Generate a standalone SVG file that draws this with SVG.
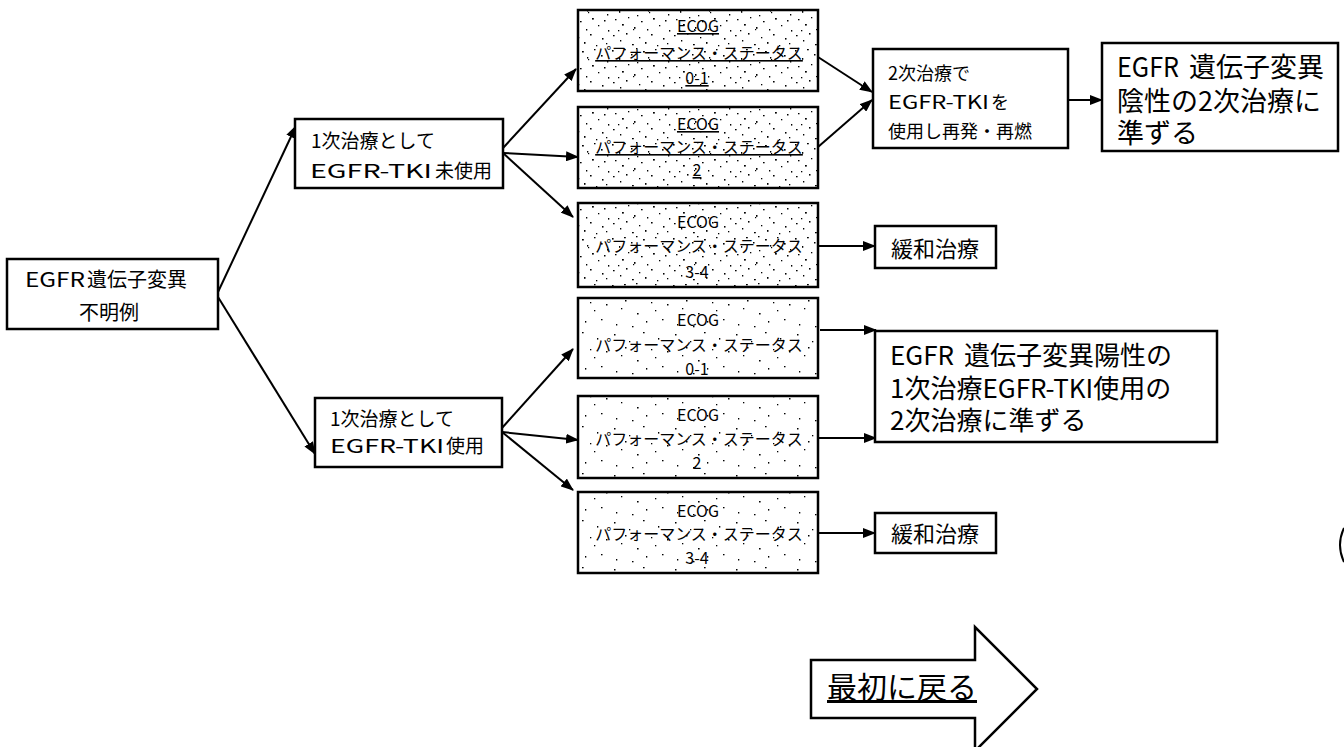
<svg xmlns="http://www.w3.org/2000/svg" width="1344" height="747" viewBox="0 0 1344 747">
<style>
.box{fill:#fff;stroke:#000;stroke-width:2.5}
.dn{fill:url(#dense)}
.sp{fill:url(#sparse)}
.t{font-family:"Noto Sans CJK JP","Noto Sans",sans-serif;fill:#000}
.ec{font-size:16px;text-anchor:middle}
.u{text-decoration:underline}
.c{stroke:#000;stroke-width:2;fill:none;marker-end:url(#ah)}
</style>
<defs>
<marker id="ah" markerUnits="userSpaceOnUse" markerWidth="13" markerHeight="10" refX="12" refY="5" orient="auto">
<path d="M0,0 L13,5 L0,10 z" fill="#000"/>
</marker>
<pattern id="dense" patternUnits="userSpaceOnUse" width="61" height="47">
<rect width="61" height="47" fill="#fff"/>
<g fill="#000">
<rect x="2" y="3" width="1.6" height="1.6"/><rect x="9" y="11" width="1.3" height="1.8"/><rect x="14" y="2" width="1.8" height="1.3"/><rect x="21" y="7" width="1.5" height="1.5"/><rect x="27" y="15" width="1.3" height="1.3"/><rect x="33" y="4" width="1.8" height="1.5"/><rect x="38" y="10" width="1.3" height="1.6"/><rect x="45" y="2" width="1.5" height="1.3"/><rect x="52" y="8" width="1.6" height="1.6"/><rect x="58" y="14" width="1.3" height="1.5"/>
<rect x="5" y="19" width="1.5" height="1.3"/><rect x="12" y="24" width="1.8" height="1.6"/><rect x="18" y="17" width="1.3" height="1.3"/><rect x="24" y="27" width="1.5" height="1.8"/><rect x="31" y="21" width="1.6" height="1.3"/><rect x="37" y="29" width="1.3" height="1.5"/><rect x="43" y="18" width="1.8" height="1.6"/><rect x="49" y="25" width="1.3" height="1.3"/><rect x="55" y="20" width="1.5" height="1.5"/><rect x="59" y="30" width="1.3" height="1.6"/>
<rect x="3" y="35" width="1.6" height="1.3"/><rect x="10" y="40" width="1.3" height="1.5"/><rect x="16" y="33" width="1.5" height="1.6"/><rect x="22" y="44" width="1.8" height="1.3"/><rect x="29" y="37" width="1.3" height="1.3"/><rect x="35" y="42" width="1.5" height="1.8"/><rect x="41" y="34" width="1.6" height="1.5"/><rect x="47" y="45" width="1.3" height="1.3"/><rect x="53" y="38" width="1.5" height="1.6"/><rect x="57" y="43" width="1.3" height="1.3"/>
<rect x="8" y="30" width="1.3" height="1.3"/><rect x="26" y="1" width="1.5" height="1.3"/><rect x="39" y="12" width="1.2" height="1.2"/><rect x="23" y="29" width="1.2" height="1.2"/>
</g>
</pattern>
<pattern id="sparse" patternUnits="userSpaceOnUse" width="61" height="47">
<rect width="61" height="47" fill="#fff"/>
<g fill="#000">
<rect x="4" y="5" width="1.5" height="1.5"/><rect x="19" y="12" width="1.3" height="1.3"/><rect x="33" y="3" width="1.6" height="1.3"/><rect x="48" y="9" width="1.3" height="1.6"/><rect x="57" y="22" width="1.5" height="1.5"/><rect x="11" y="26" width="1.3" height="1.3"/><rect x="27" y="31" width="1.6" height="1.5"/><rect x="41" y="20" width="1.3" height="1.3"/><rect x="52" y="37" width="1.5" height="1.3"/><rect x="6" y="42" width="1.3" height="1.5"/><rect x="22" y="44" width="1.5" height="1.3"/><rect x="36" y="39" width="1.3" height="1.6"/><rect x="45" y="28" width="1.3" height="1.3"/><rect x="15" y="18" width="1.5" height="1.5"/>
</g>
</pattern>
</defs>
<rect width="1344" height="747" fill="#fff"/>

<g id="connectors">
<line class="c" x1="218" y1="292" x2="296" y2="126"/>
<line class="c" x1="218" y1="297" x2="315" y2="454"/>
<line class="c" x1="503" y1="148" x2="576" y2="69"/>
<line class="c" x1="503" y1="153" x2="578" y2="157"/>
<line class="c" x1="503" y1="153" x2="573" y2="217"/>
<line class="c" x1="502" y1="428" x2="573" y2="349"/>
<line class="c" x1="502" y1="432" x2="578" y2="440"/>
<line class="c" x1="502" y1="432" x2="573" y2="490"/>
<line class="c" x1="818" y1="57" x2="872" y2="92"/>
<line class="c" x1="818" y1="147" x2="872" y2="100"/>
<line class="c" x1="1068" y1="100" x2="1102" y2="100"/>
<line class="c" x1="818" y1="246" x2="875" y2="246"/>
<line class="c" x1="820" y1="330" x2="876" y2="330"/>
<line class="c" x1="818" y1="438" x2="876" y2="438"/>
<line class="c" x1="818" y1="533" x2="875" y2="533"/>
</g>

<g id="root">
<rect class="box" x="7" y="259" width="211" height="70"/>
<text class="t" x="25" y="287" font-size="20" textLength="60" lengthAdjust="spacingAndGlyphs">EGFR</text>
<text class="t" x="87" y="287" font-size="20">遺伝子変異</text>
<text class="t" x="109" y="320" font-size="20" text-anchor="middle">不明例</text>
</g>

<g id="first-no">
<rect class="box" x="295" y="119" width="208" height="69"/>
<text class="t" x="311" y="148" font-size="19">1次治療として</text>
<text class="t" x="310" y="178" font-size="19" textLength="122" lengthAdjust="spacingAndGlyphs">EGFR-TKI</text>
<text class="t" x="435" y="178" font-size="19">未使用</text>
</g>

<g id="first-yes">
<rect class="box" x="315" y="398" width="187" height="69"/>
<text class="t" x="330" y="426" font-size="19">1次治療として</text>
<text class="t" x="330" y="453" font-size="19" textLength="114" lengthAdjust="spacingAndGlyphs">EGFR-TKI</text>
<text class="t" x="446" y="453" font-size="19">使用</text>
</g>

<g id="ecog1">
<rect class="box dn" x="578" y="10" width="240" height="81"/>
<text class="t ec u" x="698" y="32">ECOG</text>
<text class="t ec u" x="699" y="59">パフォーマンス・ステータス</text>
<text class="t ec u" x="697" y="84">0-1</text>
</g>
<g id="ecog2">
<rect class="box dn" x="578" y="107" width="240" height="81"/>
<text class="t ec u" x="698" y="130">ECOG</text>
<text class="t ec u" x="699" y="153">パフォーマンス・ステータス</text>
<text class="t ec u" x="697" y="176">2</text>
</g>
<g id="ecog3">
<rect class="box dn" x="578" y="203" width="240" height="84"/>
<text class="t ec" x="698" y="228">ECOG</text>
<text class="t ec" x="699" y="252">パフォーマンス・ステータス</text>
<text class="t ec" x="697" y="278">3-4</text>
</g>
<g id="ecog4">
<rect class="box sp" x="578" y="298" width="240" height="80"/>
<text class="t ec" x="698" y="326">ECOG</text>
<text class="t ec" x="699" y="351">パフォーマンス・ステータス</text>
<text class="t ec" x="697" y="375">0-1</text>
</g>
<g id="ecog5">
<rect class="box sp" x="578" y="396" width="240" height="82"/>
<text class="t ec" x="698" y="421">ECOG</text>
<text class="t ec" x="699" y="445">パフォーマンス・ステータス</text>
<text class="t ec" x="697" y="469">2</text>
</g>
<g id="ecog6">
<rect class="box sp" x="578" y="492" width="240" height="81"/>
<text class="t ec" x="698" y="517">ECOG</text>
<text class="t ec" x="699" y="540">パフォーマンス・ステータス</text>
<text class="t ec" x="697" y="564">3-4</text>
</g>

<g id="second">
<rect class="box" x="873" y="49" width="195" height="99"/>
<text class="t" x="888" y="80" font-size="18">2次治療で</text>
<text class="t" x="888" y="109" font-size="18" textLength="101" lengthAdjust="spacingAndGlyphs">EGFR-TKI</text>
<text class="t" x="991" y="109" font-size="18">を</text>
<text class="t" x="888" y="138" font-size="18">使用し再発・再燃</text>
</g>

<g id="neg">
<rect class="box" x="1102" y="43" width="236" height="108"/>
<text class="t" x="1117" y="77" font-size="27" textLength="62" lengthAdjust="spacingAndGlyphs">EGFR</text>
<text class="t" x="1189" y="77" font-size="27">遺伝子変異</text>
<text class="t" x="1117" y="111" font-size="27">陰性の2次治療に</text>
<text class="t" x="1117" y="143" font-size="27">準ずる</text>
</g>

<g id="palliative1">
<rect class="box" x="875" y="226" width="121" height="42"/>
<text class="t" x="935" y="257" font-size="22" text-anchor="middle">緩和治療</text>
</g>

<g id="pos">
<rect class="box" x="875" y="331" width="342" height="111"/>
<text class="t" x="890" y="365" font-size="26" textLength="64" lengthAdjust="spacingAndGlyphs">EGFR</text>
<text class="t" x="964" y="365" font-size="26">遺伝子変異陽性の</text>
<text class="t" x="890" y="398" font-size="26">1次治療EGFR-TKI使用の</text>
<text class="t" x="890" y="430" font-size="26">2次治療に準ずる</text>
</g>

<g id="palliative2">
<rect class="box" x="875" y="513" width="121" height="40"/>
<text class="t" x="935" y="542" font-size="22" text-anchor="middle">緩和治療</text>
</g>

<g id="back">
<polygon points="811,660 975,660 975,627 1037,689 975,751 975,718 811,718" fill="#fff" stroke="#000" stroke-width="2.5"/>
<text class="t u" x="827" y="698" font-size="30">最初に戻る</text>
</g>

<path d="M1344,528 Q1336,545 1344,562" fill="none" stroke="#000" stroke-width="2"/>
</svg>
